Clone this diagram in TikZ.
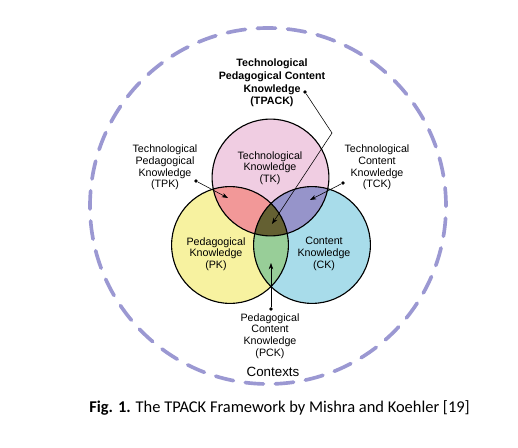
\documentclass[tikz,border=0pt]{standalone}
\usepackage{fontspec}
\setmainfont{Liberation Sans}
\newfontfamily\capfont{Carlito}
\usetikzlibrary{positioning,arrows.meta,calc}

\definecolor{tkcol}{RGB}{240,205,226}
\definecolor{pkcol}{RGB}{247,242,160}
\definecolor{ckcol}{RGB}{168,220,234}
\definecolor{tpkcol}{RGB}{242,152,152}
\definecolor{tckcol}{RGB}{150,148,202}
\definecolor{pckcol}{RGB}{152,206,152}
\definecolor{tpackcol}{RGB}{100,96,50}
\definecolor{ctxcol}{RGB}{155,152,210}

\tikzset{
  lbl/.style={align=center, inner sep=0pt, font=\fontsize{7.6}{8.3}\selectfont},
  dot/.style={circle, fill=black, inner sep=0pt, minimum size=2.6pt},
  pointer/.style={-{Stealth[length=4.5pt,width=3.2pt]}, thin},
}

\begin{document}
\begin{tikzpicture}
    \useasboundingbox (-6.7, -6.05) rectangle (6.25, 5.15);
%
    \coordinate (cT) at (0.0625, 0.7125);
    \coordinate (cP) at (-0.95, -0.975);
    \coordinate (cC) at (1.1, -0.975);
    \def\rad{1.46}
%
    % contexts
    \draw[ctxcol, line width=2.6pt, line cap=round, dash pattern=on 13pt off 8.5pt]
        (0, 0) circle (4.45);
%
    \fill[pkcol] (cP) circle (\rad);
    \fill[ckcol] (cC) circle (\rad);
    \fill[tkcol] (cT) circle (\rad);
    \begin{scope}
      \clip (cT) circle (\rad);
      \fill[tpkcol] (cP) circle (\rad);
      \fill[tckcol] (cC) circle (\rad);
    \end{scope}
    \begin{scope}
      \clip (cP) circle (\rad);
      \fill[pckcol] (cC) circle (\rad);
      \clip (cT) circle (\rad);
      \fill[tpackcol] (cC) circle (\rad);
    \end{scope}
    \draw[line width=0.8pt] (cT) circle (\rad);
    \draw[line width=0.8pt] (cP) circle (\rad);
    \draw[line width=0.8pt] (cC) circle (\rad);
%
    \node[lbl] (tk) at (0.05, 0.95) {Technological\\Knowledge\\(TK)};
    \node[lbl] (pk) at (-1.3, -1.2) {Pedagogical\\Knowledge\\(PK)};
    \node[lbl] (ck) at (1.4, -1.2) {Content\\Knowledge\\(CK)};
%
    \node[lbl] (tpk) at (-2.575, 0.96) {Technological\\Pedagogical\\Knowledge\\(TPK)};
    \node[lbl] (tck) at (2.725, 0.96) {Technological\\Content\\Knowledge\\(TCK)};
    \node[lbl, font=\fontsize{7.6}{9}\selectfont\bfseries] (tpack) at (0.1, 3.075)
        {Technological\\Pedagogical Content\\Knowledge\\(TPACK)};
    \node[lbl] (pck) at (0.05, -3.25) {Pedagogical\\Content\\Knowledge\\(PCK)};
    \node[lbl, font=\fontsize{9.5}{10}\selectfont] (ctx) at (0.125, -4.15) {Contexts};
%
    \node[dot] (dtpk) at (-1.8, 0.625) {};
    \node[dot] (dtck) at (1.875, 0.575) {};
    \node[dot] (dtpack) at (0.925, 2.85) {};
    \node[dot] (dpck) at (0.075, -2.575) {};
    \node[coordinate] (atpk) at (-1.0, 0.2) {};
    \node[coordinate] (atck) at (1.05, 0.15) {};
    \node[coordinate] (bend) at (1.6, 1.825) {};
    \node[coordinate] (atpack) at (0.1, -0.45) {};
    \node[coordinate] (apck) at (0.075, -1.425) {};
    \draw[pointer] (dtpk) -- (atpk);
    \draw[pointer] (dtck) -- (atck);
    \draw[pointer] (dtpack) -- (bend) -- (atpack);
    \draw[pointer] (dpck) -- (apck);
%
    \node[anchor=west, inner sep=0pt, font=\capfont\fontsize{11.7}{13}\selectfont] (cap)
        at (-4.475, -5.05) {\textbf{Fig. 1.} The TPACK Framework by Mishra and Koehler [19]};
\end{tikzpicture}
\end{document}
